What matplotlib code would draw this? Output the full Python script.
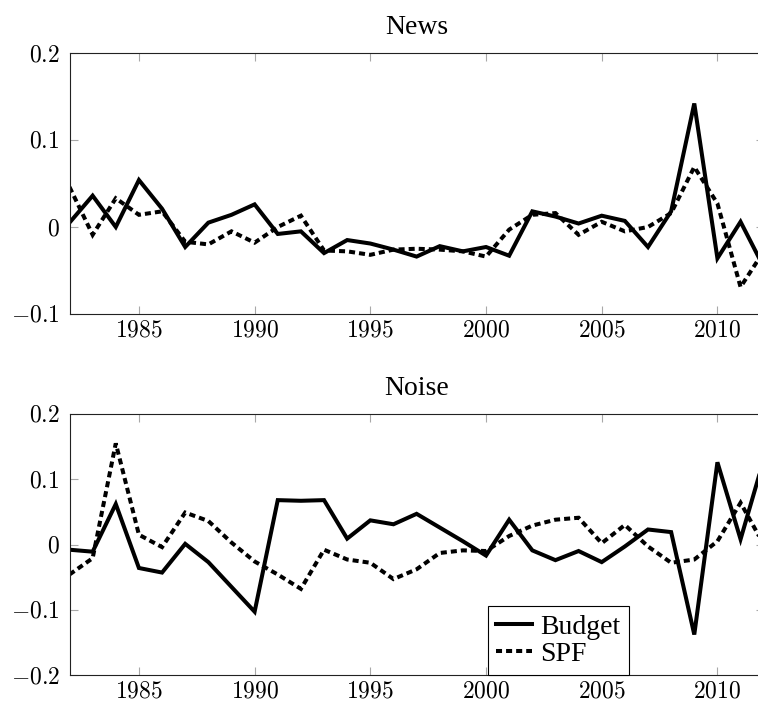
# Import required libraries
import matplotlib
matplotlib.use('Agg')
import matplotlib.pyplot as plt
from matplotlib.ticker import FuncFormatter

# Years on the x axis
years = list(range(1982, 2013))

# News component
news_budget = [0.005, 0.036, 0.000, 0.054, 0.021, -0.023, 0.005, 0.014, 0.026, -0.008,
               -0.005, -0.030, -0.015, -0.019, -0.026, -0.034, -0.022, -0.028, -0.023, -0.033,
               0.018, 0.012, 0.004, 0.013, 0.007, -0.023, 0.018, 0.142, -0.036, 0.006, -0.046]
news_spf = [0.046, -0.009, 0.033, 0.014, 0.018, -0.017, -0.020, -0.005, -0.018, 0.000,
            0.013, -0.027, -0.028, -0.032, -0.026, -0.025, -0.026, -0.028, -0.034, -0.003,
            0.014, 0.016, -0.009, 0.006, -0.005, 0.000, 0.016, 0.069, 0.027, -0.069, -0.028]

# Noise component
noise_budget = [-0.008, -0.011, 0.062, -0.036, -0.043, 0.001, -0.027, -0.065, -0.103, 0.068,
                0.067, 0.068, 0.009, 0.037, 0.031, 0.047, 0.026, 0.005, -0.017, 0.038,
                -0.009, -0.024, -0.010, -0.027, -0.003, 0.023, 0.019, -0.138, 0.126, 0.008, 0.130]
noise_spf = [-0.046, -0.021, 0.155, 0.015, -0.004, 0.049, 0.036, 0.003, -0.026, -0.046,
             -0.068, -0.008, -0.023, -0.028, -0.053, -0.038, -0.013, -0.009, -0.010, 0.013,
             0.029, 0.038, 0.041, 0.002, 0.030, -0.003, -0.028, -0.023, 0.005, 0.064, 0.000]

x_ticks = [1985, 1990, 1995, 2000, 2005, 2010]
news_yticks = [-0.1, 0, 0.1, 0.2]
noise_yticks = [-0.2, -0.1, 0, 0.1, 0.2]

# Fonts: serif text, Computer Modern numbers for the ticks
plt.rcParams['font.family'] = ['Liberation Serif', 'DejaVu Serif']
plt.rcParams['mathtext.fontset'] = 'cm'

fig = plt.figure(figsize=(7.58, 7.02), dpi=100)
W, H = 758.0, 702.0
left = 69.5 / W
width = 694.2 / W
ax_news = fig.add_axes([left, 1 - 314 / H, width, 261 / H])
ax_noise = fig.add_axes([left, 1 - 675 / H, width, 261 / H])

tick_fmt = FuncFormatter(lambda v, pos: '$%g$' % round(v, 3))

def style_axis(ax, title, ylim, yticks):
    ax.set_xlim(1982, 2012)
    ax.set_ylim(*ylim)
    ax.set_xticks(x_ticks)
    ax.set_yticks(yticks)
    ax.xaxis.set_major_formatter(tick_fmt)
    ax.yaxis.set_major_formatter(tick_fmt)
    ax.tick_params(direction='in', length=6, width=0.8, color='#a8a8a8',
                   labelsize=17, labelcolor='black', top=True, right=True, pad=7)
    ax.tick_params(axis='x', pad=5)
    for spine in ax.spines.values():
        spine.set_linewidth(0.8)
        spine.set_color('#222222')
    ax.set_title(title, fontsize=20, pad=14)

# Draw the lines
line_kw = dict(color='black', linewidth=2.9, solid_joinstyle='miter', dash_joinstyle='miter')
dash = (1.5, 1.0)

ax_news.plot(years, news_budget, '-', **line_kw)
ax_news.plot(years, news_spf, '--', dashes=dash, **line_kw)
style_axis(ax_news, 'News', (-0.1, 0.2), news_yticks)

ax_noise.plot(years, noise_budget, '-', label='Budget', **line_kw)
ax_noise.plot(years, noise_spf, '--', dashes=dash, label='SPF', **line_kw)
style_axis(ax_noise, 'Noise', (-0.2, 0.2), noise_yticks)

# Legend sitting on the bottom axis line
leg = ax_noise.legend(loc='lower right', bbox_to_anchor=(0.806, 0.0), fontsize=20,
                      frameon=True, fancybox=False, framealpha=1, edgecolor='black',
                      handlelength=1.3, handletextpad=0.3, borderpad=0.3,
                      labelspacing=0.05, borderaxespad=0)
leg.get_frame().set_linewidth(0.8)

fig.savefig('out.png', dpi=100)
